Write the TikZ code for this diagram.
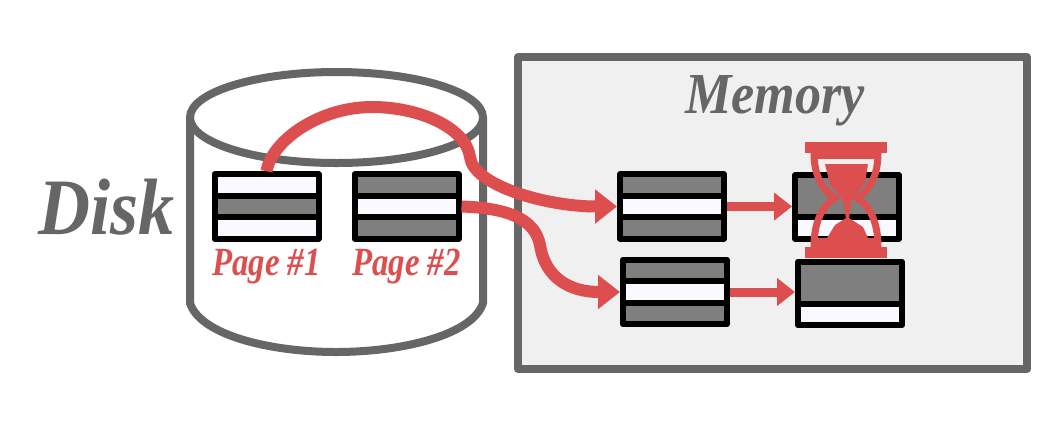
\documentclass[tikz,border=0pt]{standalone}
\usepackage{fontspec}
\setmainfont{Liberation Serif}
\newfontfamily\labelfont[FakeStretch=0.9]{Liberation Serif}
\newfontfamily\pagefont[FakeStretch=0.82]{Liberation Serif}
\usetikzlibrary{shapes.multipart,arrows.meta,positioning}
\definecolor{diskgray}{HTML}{666666}
\definecolor{memgray}{HTML}{F0F0F0}
\definecolor{redline}{HTML}{DD4E4E}
\definecolor{darkstripe}{HTML}{7F7F7F}
\definecolor{lightstripe}{HTML}{FAF9FF}
\newcommand{\stripe}[1]{\rule{0pt}{#1pt}}
\newcommand{\threestripes}{\stripe{15.5}\nodepart{two}\stripe{15.5}\nodepart{three}\stripe{15.5}}
\newcommand{\twostripes}{\stripe{36}\nodepart{two}\stripe{15.5}}

\begin{document}
\begin{tikzpicture}[
	x=1pt, y=-1pt,
	pagebox/.style={draw=black, line width=6pt, line join=round, rectangle split, rectangle split parts=3, text width=104pt, inner sep=0pt},
	lightpage/.style={pagebox, rectangle split part fill={lightstripe,darkstripe,lightstripe}},
	darkpage/.style={pagebox, rectangle split part fill={darkstripe,lightstripe,darkstripe}},
	framepage/.style={pagebox, rectangle split parts=2, rectangle split part fill={darkstripe,lightstripe}},
	pagelabel/.style={font=\pagefont\fontsize{40}{40}\selectfont\itshape\bfseries, text=redline, inner sep=0pt},
	biglabel/.style={text=diskgray, inner sep=0pt},
	bigarrow/.style={draw=redline, line width=12pt, -{Triangle[length=22pt,width=33pt]}},
	smallarrow/.style={draw=redline, line width=9pt, -{Triangle[length=18pt,width=27pt]}}
	]
	\useasboundingbox (0,0) rectangle (1064,424);
	
	% Disk
	\draw[diskgray, line width=8pt, fill=white] (190,118) -- (190,303) .. controls (200,335) and (270,352) .. (336,352) .. controls (402,352) and (473,335) .. (483,303) -- (483,118);
	\draw[diskgray, line width=8pt, fill=white] (336.5,117.5) ellipse (146.5 and 45.5);
	\node[biglabel, font=\labelfont\fontsize{80}{80}\selectfont\bfseries\itshape] (disk) at (107,207) {Disk};
	
	% Memory
	\draw[diskgray, line width=8pt, fill=memgray, line join=round] (518,57) rectangle (1027,369);
	\node[biglabel, font=\labelfont\fontsize{58}{58}\selectfont\bfseries\itshape] (memory) at (775,101) {Memory};
	
	% Pages
	\node[lightpage] (page1) at (266.5,206.5) {\threestripes};
	\node[darkpage, right=30pt of page1] (page2) {\threestripes};
	\node[pagelabel, below=7pt of page1] (label1) {Page \#1};
	\node[pagelabel, below=7pt of page2] (label2) {Page \#2};
	
	\node[darkpage] (frameA) at (672,206.5) {\threestripes};
	\node[darkpage] (frameB) at (675,292) {\threestripes};
	\node[framepage] (frameC) at (847,207) {\twostripes};
	\node[framepage] (frameD) at (850,293.5) {\twostripes};
	
	% Arrows
	\draw[bigarrow] (page1.north) .. controls (272,140) and (320,107) .. (372,107) .. controls (420,107) and (466,128) .. (470,157) .. controls (473,185) and (545,206.5) .. (frameA.west);
	\draw[bigarrow] (page2.east) .. controls (510,208) and (535,220) .. (540,245) .. controls (545,278) and (570,292) .. (frameB.west);
	\draw[smallarrow] (frameA.east) -- (frameA.east -| frameC.west);
	\draw[smallarrow] (frameB.east) -- (frameB.east -| frameD.west);
	
	% Hourglass
	\fill[redline] (805,142) rectangle (887,153);
	\fill[redline] (805,247) rectangle (887,258);
	\fill[redline] (811,153) rectangle (881,159);
	\fill[redline] (811,238) rectangle (881,247);
	\draw[redline, line width=7pt] (814,153) .. controls (814,175) and (822,190) .. (835,198) .. controls (822,206) and (814,222) .. (814,247);
	\draw[redline, line width=7pt] (878,153) .. controls (878,175) and (870,190) .. (857,198) .. controls (870,206) and (878,222) .. (878,247);
	\fill[redline] (825,164) -- (868,164) -- (865,183) -- (852,198) -- (849,218) -- (846,218) -- (842,198) -- (830,185) -- cycle;
	\fill[redline] (827,238) -- (835,225) -- (846,218) -- (849,218) -- (863,227) -- (868,238) -- cycle;
	
\end{tikzpicture}
\end{document}
